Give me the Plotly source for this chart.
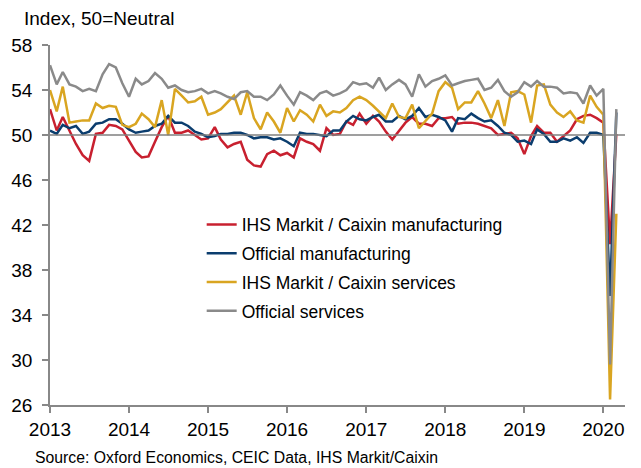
import pandas as pd
import plotly.graph_objects as go

# Monthly PMI readings, Jan 2013 - Mar 2020
months = pd.date_range("2013-01-01", "2020-03-01", freq="MS")

caixin_mfg = [
    52.3, 50.4, 51.6, 50.4, 49.2, 48.2, 47.7, 50.1, 50.2, 50.9, 50.8, 50.5,
    49.5, 48.5, 48.0, 48.1, 49.4, 50.7, 51.7, 50.2, 50.2, 50.4, 50.0, 49.6,
    49.7, 50.7, 49.6, 48.9, 49.2, 49.4, 47.8, 47.3, 47.2, 48.3, 48.6, 48.2,
    48.4, 48.0, 49.7, 49.4, 49.2, 48.6, 50.6, 50.0, 50.1, 51.2, 50.9, 51.9,
    51.0, 51.7, 51.2, 50.3, 49.6, 50.4, 51.1, 51.6, 51.0, 51.0, 50.8, 51.5,
    51.5, 51.6, 51.0, 51.1, 51.1, 51.0, 50.8, 50.6, 50.0, 50.1, 50.2, 49.7,
    48.3, 49.9, 50.8, 50.2, 50.2, 49.4, 49.9, 50.4, 51.4, 51.7, 51.8, 51.5,
    51.1, 40.3, 50.1,
]

official_mfg = [
    50.4, 50.1, 50.9, 50.6, 50.8, 50.1, 50.3, 51.0, 51.1, 51.4, 51.4, 51.0,
    50.5, 50.2, 50.3, 50.4, 50.8, 51.0, 51.7, 51.1, 51.1, 50.8, 50.3, 50.1,
    49.8, 49.9, 50.1, 50.1, 50.2, 50.2, 50.0, 49.7, 49.8, 49.8, 49.6, 49.7,
    49.4, 49.0, 50.2, 50.1, 50.1, 50.0, 49.9, 50.4, 50.4, 51.2, 51.7, 51.4,
    51.3, 51.6, 51.8, 51.2, 51.2, 51.7, 51.4, 51.7, 52.4, 51.6, 51.8, 51.6,
    51.3, 50.3, 51.5, 51.4, 51.9, 51.5, 51.2, 51.3, 50.8, 50.2, 50.0, 49.4,
    49.5, 49.2, 50.5, 50.1, 49.4, 49.4, 49.7, 49.5, 49.8, 49.3, 50.2, 50.2,
    50.0, 35.7, 52.0,
]

caixin_svc = [
    54.0, 52.1, 54.3, 51.1, 51.2, 51.3, 51.3, 52.8, 52.4, 52.6, 52.5, 50.9,
    50.7, 51.0, 51.9, 51.4, 50.7, 53.1, 50.0, 54.1, 53.5, 52.9, 53.0, 53.4,
    51.8, 52.0, 52.3, 52.9, 53.5, 51.8, 53.8, 51.5, 50.5, 52.0, 51.2, 50.2,
    52.4, 51.2, 52.2, 51.8, 51.2, 52.7, 51.7, 52.1, 52.0, 52.4, 53.1, 53.4,
    53.1, 52.6, 52.1, 51.5, 52.8, 51.6, 51.5, 52.7, 50.6, 51.2, 51.9, 53.9,
    54.7, 54.2, 52.3, 52.9, 52.9, 53.9, 52.8, 51.5, 53.1, 50.8, 53.8, 53.9,
    53.6, 51.1, 54.4, 54.5, 52.7, 52.0, 51.6, 52.1, 51.3, 51.1, 53.5, 52.5,
    51.8, 26.5, 43.0,
]

official_svc = [
    56.2, 54.5, 55.6, 54.5, 54.3, 53.9, 54.1, 53.9, 55.4, 56.3, 56.0, 54.6,
    53.4, 55.0, 54.5, 54.8, 55.5, 55.0, 54.2, 54.4, 54.0, 53.8, 53.9, 54.1,
    53.7, 53.9, 53.7, 53.4, 53.2, 53.8, 53.9, 53.4, 53.4, 53.1, 53.6, 54.4,
    53.5, 52.7, 53.8, 53.5, 53.1, 53.7, 53.9, 53.5, 53.7, 54.0, 54.7, 54.5,
    54.6, 54.2, 55.1, 54.0, 54.5, 54.9, 54.5, 53.4, 55.4, 54.3, 54.8, 55.0,
    55.3, 54.4, 54.6, 54.8, 54.9, 55.0, 54.0, 54.2, 54.9, 53.9, 53.4, 53.8,
    54.7, 54.3, 54.8, 54.3, 54.3, 54.2, 53.7, 53.8, 53.7, 52.8, 54.4, 53.5,
    54.1, 29.6, 52.3,
]

series = [
    ("IHS Markit / Caixin manufacturing", caixin_mfg, "#C8202F"),
    ("Official manufacturing", official_mfg, "#0B3D6E"),
    ("IHS Markit / Caixin services", caixin_svc, "#D9A521"),
    ("Official services", official_svc, "#8A8A8A"),
]

year_ticks = [f"{y}-01-01" for y in range(2013, 2021)]
year_labels = [str(y) for y in range(2013, 2021)]
neutral = 50

FONT = "Liberation Sans, Arial, sans-serif"

fig = go.Figure()
for i, (name, vals, color) in enumerate(series):
    fig.add_trace(go.Scatter(
        x=months, y=vals, name=name, mode="lines",
        line=dict(color=color, width=2.5),
        legendgroup=f"g{i}",
        hoverinfo="skip",
    ))

# Neutral reference line at 50
fig.add_shape(
    type="line", xref="paper", x0=0, x1=1, yref="y", y0=neutral, y1=neutral,
    line=dict(color="#7F7F7F", width=1.5), layer="above",
)

fig.add_annotation(
    text="Index, 50=Neutral", xref="paper", yref="paper",
    x=-0.049, y=1.0736, xanchor="left", yanchor="middle",
    showarrow=False, font=dict(family=FONT, size=19, color="#000000"),
)
fig.add_annotation(
    text="Source: Oxford Economics, CEIC Data, IHS Markit/Caixin",
    xref="paper", yref="paper", x=-0.03, y=-0.147,
    xanchor="left", yanchor="middle", showarrow=False,
    font=dict(family=FONT, size=15.8, color="#000000"),
)

fig.update_layout(
    width=641, height=468,
    margin=dict(l=50, r=16, t=45, b=63),
    paper_bgcolor="white", plot_bgcolor="white",
    font=dict(family=FONT, size=19, color="#000000"),
    showlegend=True,
    legend=dict(
        x=0.2638, y=0.551, xanchor="left", yanchor="top",
        bgcolor="rgba(0,0,0,0)", borderwidth=0,
        font=dict(family=FONT, size=17.5, color="#000000"),
        tracegroupgap=3, itemwidth=30,
    ),
    xaxis=dict(
        type="date", range=["2013-01-01", "2020-04-10"],
        tickvals=year_ticks, ticktext=year_labels,
        showgrid=False, zeroline=False,
        showline=True, linecolor="#888888", linewidth=1.5,
        ticks="outside", ticklen=6, tickcolor="#888888", tickwidth=1.5,
        tickfont=dict(family=FONT, size=19),
    ),
    yaxis=dict(
        range=[26, 58], tickvals=list(range(26, 59, 4)),
        showgrid=False, zeroline=False,
        showline=True, linecolor="#888888", linewidth=1.5,
        ticks="outside", ticklen=6, tickcolor="#888888", tickwidth=1.5,
        ticklabelstandoff=6,
        tickfont=dict(family=FONT, size=19),
    ),
)

fig.write_html("out.html")
